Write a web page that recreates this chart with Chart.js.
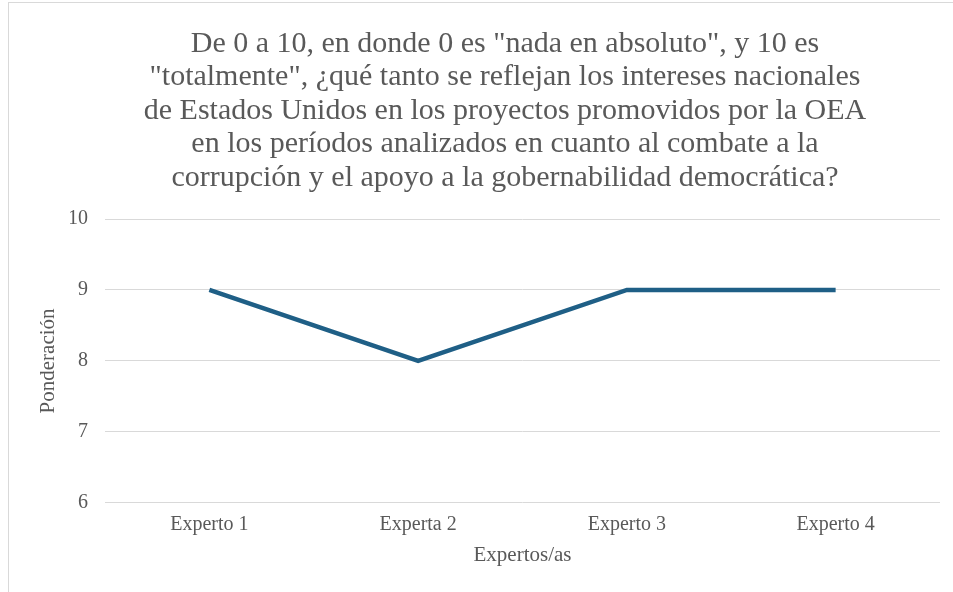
<!DOCTYPE html>
<html>
<head>
<meta charset="utf-8">
<script src="https://cdn.jsdelivr.net/npm/chart.js@4"></script>
<style>
    html, body { margin: 0; padding: 0; background: #ffffff; overflow: hidden; }
    .frame {
        position: absolute;
        left: 8px;
        top: 2px;
        width: 945px;
        height: 590px;
        border-left: 1px solid #d9d9d9;
        border-top: 1px solid #d9d9d9;
        box-sizing: border-box;
    }
    .wrap { position: absolute; left: 0; top: 0; width: 953px; height: 592px; }
</style>
</head>
<body>
<div class="frame"></div>
<div class="wrap"><canvas id="lineChart" width="953" height="592"></canvas></div>
<script>
const categories = ['Experto 1', 'Experta 2', 'Experto 3', 'Experto 4'];
const ponderacion = [9, 8, 9, 9];
const titleLines = [
    'De 0 a 10, en donde 0 es "nada en absoluto", y 10 es',
    '"totalmente", ¿qué tanto se reflejan los intereses nacionales',
    'de Estados Unidos en los proyectos promovidos por la OEA',
    'en los períodos analizados en cuanto al combate a la',
    'corrupción y el apoyo a la gobernabilidad democrática?'
];

const serif = "'Liberation Serif', 'DejaVu Serif', serif";
const gridColor = '#d9d9d9';
const textColor = '#595959';

const ctx = document.getElementById('lineChart').getContext('2d');

new Chart(ctx, {
    type: 'line',
    data: {
        labels: categories,
        datasets: [{
            label: 'Ponderación',
            data: ponderacion,
            borderColor: '#1f5f86',
            borderWidth: 4.5,
            pointRadius: 0,
            tension: 0,
            fill: false
        }]
    },
    options: {
        responsive: false,
        animation: false,
        layout: { padding: { left: 70, right: 13, top: 0, bottom: 20 } },
        plugins: {
            legend: { display: false },
            tooltip: { enabled: false },
            title: {
                display: true,
                text: titleLines,
                color: textColor,
                font: { family: serif, size: 30, weight: 'normal', lineHeight: 1.12 },
                padding: { top: 27, bottom: 24 }
            }
        },
        scales: {
            x: {
                offset: true,
                grid: { display: false },
                border: { display: false },
                ticks: { color: textColor, font: { family: serif, size: 20 }, padding: 2 },
                title: {
                    display: true,
                    text: 'Expertos/as',
                    color: textColor,
                    font: { family: serif, size: 21 },
                    padding: { top: 4, bottom: 4 }
                }
            },
            y: {
                min: 6,
                max: 10,
                ticks: { stepSize: 1, color: textColor, font: { family: serif, size: 20 }, padding: 17 },
                grid: { color: gridColor, lineWidth: 1, drawTicks: false },
                border: { display: false },
                title: {
                    display: true,
                    text: 'Ponderación',
                    color: textColor,
                    font: { family: serif, size: 21 },
                    // pulled left into the layout padding so the chart title stays centred like the original
                    padding: { top: -34.6, bottom: -9.6 }
                }
            }
        }
    }
});
</script>
</body>
</html>
